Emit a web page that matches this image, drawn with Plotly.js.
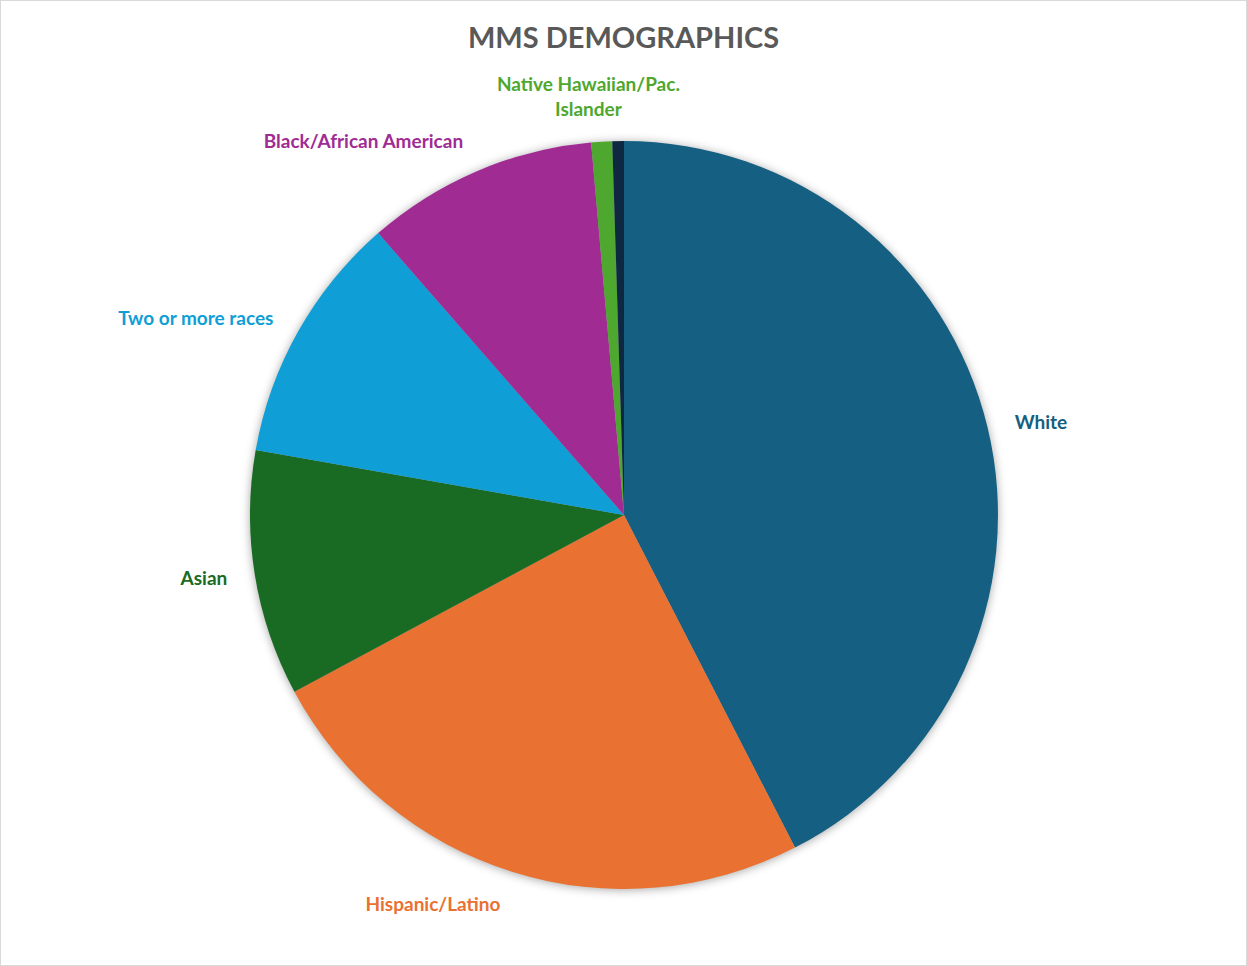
<!DOCTYPE html>
<html>
<head>
<meta charset="utf-8">
<script src="https://cdn.plot.ly/plotly-3.0.1.min.js"></script>
<style>
  html, body { margin: 0; padding: 0; background: #fff; }
  #chart { width: 1247px; height: 966px; box-sizing: border-box; border: 1px solid #d9d9d9; }
  .pielayer .trace:first-child { filter: drop-shadow(0px 1px 5px rgba(0,0,0,0.35)); }
</style>
</head>
<body>
<div id="chart"></div>
<script>
const categories = ["White", "Hispanic/Latino", "Asian", "Two or more races", "Black/African American", "Native Hawaiian/Pac.<br>Islander", "American Indian/Alaska Native"];
const values = [42.4, 24.7, 10.6, 10.8, 10.0, 0.9, 0.5];
const labelText = ["White", "Hispanic/Latino", "Asian", "Two or more races", "Black/African American", "Native Hawaiian/Pac.<br>Islander", ""];
const colors = ["#156082", "#E97132", "#196B24", "#0F9ED5", "#A02B93", "#4EA72E", "#0E2841"];

const FONT = "Lato, 'Open Sans', sans-serif";

// Visible pie (slices)
const pieTrace = {
  type: "pie",
  labels: categories,
  values: values,
  textinfo: "none",
  sort: false,
  direction: "clockwise",
  rotation: 0,
  domain: { x: [0.0278, 0.9722], y: [0.0278, 0.9722] },
  marker: { colors: colors, line: { width: 0 } },
  hoverinfo: "label+percent",
  showlegend: false
};

// Transparent, slightly larger pie that carries the outside labels
const labelTrace = {
  type: "pie",
  labels: categories,
  values: values,
  text: labelText,
  textinfo: "text",
  textposition: "outside",
  sort: false,
  direction: "clockwise",
  rotation: 0,
  domain: { x: [0, 1], y: [0, 1] },
  marker: { colors: colors.map(() => "rgba(0,0,0,0)"), line: { width: 0 } },
  outsidetextfont: { family: FONT, size: 19, color: colors, weight: "bold" },
  hoverinfo: "skip",
  showlegend: false
};

const layout = {
  width: 1245,
  height: 964,
  margin: { l: 227, r: 226, t: 118, b: 54 },
  paper_bgcolor: "#ffffff",
  title: {
    text: "<b>MMS DEMOGRAPHICS</b>",
    font: { family: FONT, size: 29, color: "#595959" },
    x: 0.5, xanchor: "center",
    y: 0.962, yanchor: "middle", yref: "container"
  },
  showlegend: false
};

Plotly.newPlot("chart", [pieTrace, labelTrace], layout, { displayModeBar: false, staticPlot: true }).then(() => {
  // Centre the label of the small slice at the top over its slice (as in the original chart)
  const traces = document.querySelectorAll(".pielayer .trace");
  if (traces.length < 2) return;
  const slices = traces[1].querySelectorAll("g.slice");
  const idx = labelText.indexOf("Native Hawaiian/Pac.<br>Islander");
  if (!slices[idx]) return;
  const t = slices[idx].querySelector("text.slicetext");
  if (!t) return;
  const w = t.getBBox().width;
  const tr = t.getAttribute("transform") || "";
  t.setAttribute("transform", "translate(" + (w / 2) + ",0) " + tr);
});
</script>
</body>
</html>
